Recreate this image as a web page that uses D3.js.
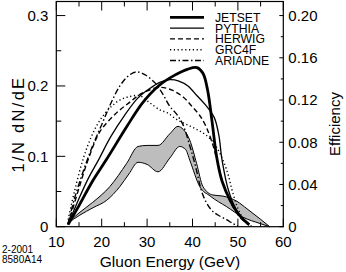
<!DOCTYPE html>
<html><head><meta charset="utf-8">
<script src="https://cdn.jsdelivr.net/npm/d3@7"></script>
<style>body{margin:0;background:#fff}svg{display:block}text{font-family:"Liberation Sans",Arial,Helvetica,sans-serif;fill:#000}</style>
</head><body>
<script>
// ---- data ----
const xTicks = [10,20,30,40,50,60];
const yTicksLeft = [0,0.1,0.2,0.3];
const yTicksRight = [0,0.04,0.08,0.12,0.16,0.20];
const seriesNames = ["JETSET","PYTHIA","HERWIG","GRC4F","ARIADNE"];
const jetset = [[12.6,0.003],[15,0.03],[18,0.065],[21,0.095],[25.5,0.142],[29,0.176],[32.5,0.2],[36,0.215],[39,0.224],[41,0.226],[42.3,0.218],[43.3,0.195],[44.3,0.15],[45.3,0.1],[46.5,0.065],[48.5,0.035],[50.5,0.015],[52.5,0.003]];
const pythia = [[12.6,0.003],[15,0.04],[17,0.068],[19.3,0.095],[22,0.128],[25,0.158],[28,0.183],[30.5,0.196],[32.8,0.205],[35,0.209],[37,0.207],[39,0.2],[41,0.186],[43,0.172],[44.8,0.155],[45.8,0.13],[46.5,0.095],[48,0.05],[50,0.02],[52,0.004]];
const herwig = [[12.6,0.003],[15,0.055],[17,0.095],[19.6,0.135],[23,0.16],[26,0.176],[29,0.19],[32.8,0.198],[35.5,0.194],[38,0.184],[40,0.17],[41.6,0.158],[43,0.142],[44.3,0.12],[45.4,0.095],[46.8,0.06],[48.5,0.033],[50.5,0.013],[52.5,0.002]];
const grc4f = [[12.6,0.01],[14,0.05],[16,0.098],[18,0.132],[20,0.155],[22,0.17],[24,0.18],[26.2,0.185],[28.4,0.186],[30.6,0.176],[32.8,0.166],[34.4,0.162],[36.6,0.152],[38.8,0.145],[41,0.138],[43,0.13],[44.8,0.118],[46.5,0.098],[47.8,0.075],[48.8,0.05],[50,0.026],[51.5,0.008],[53,0.001]];
const ariadne = [[12.6,0.005],[14,0.04],[16,0.08],[18,0.115],[20,0.145],[22,0.175],[24,0.2],[26,0.215],[27.7,0.22],[29.5,0.216],[31.8,0.204],[33.5,0.188],[35,0.171],[36.5,0.16],[37.9,0.145],[39.4,0.115],[40.5,0.09],[42.3,0.045],[44,0.025],[45.5,0.017],[47.5,0.01],[49,0.004],[50,0.001]];
// efficiency band (right axis)
const effUpper = [[12.4,0.003],[15,0.013],[18,0.023],[21.8,0.038],[25.5,0.06],[28,0.076],[30,0.077],[32.4,0.077],[35,0.088],[36.8,0.095],[38,0.092],[39.4,0.082],[40.9,0.06],[42.3,0.038],[44.5,0.03],[46.7,0.029],[49.8,0.024],[52,0.017],[55,0.007],[57,0.0]];
const effLower = [[12.4,0.003],[15.2,0.011],[18.1,0.018],[21.1,0.025],[24,0.038],[26,0.05],[28,0.061],[30,0.059],[32.4,0.052],[35,0.065],[37.2,0.076],[38.5,0.073],[39.4,0.063],[41.6,0.038],[43.9,0.029],[47.5,0.019],[51.1,0.009],[54.9,0.003],[57,0.0]];

// ---- layout ----
const W=346,H=272;
const L=56.3,R=283.3,T=1.5,B=226.7;
const svg=d3.select("body").append("svg").attr("width",W).attr("height",H);
const x=d3.scaleLinear().domain([10,60]).range([L,R]);
const y=d3.scaleLinear().domain([0,0.32]).range([B,T]);
const y2=d3.scaleLinear().domain([0,0.32*2/3]).range([B,T]);

// band
const lineU=d3.line().x(d=>x(d[0])).y(d=>y2(d[1])).curve(d3.curveMonotoneX);
const bandPath=lineU(effUpper)+"L"+lineU(effLower.slice().reverse()).slice(1)+"Z";
svg.append("path").attr("d",bandPath).attr("fill","#bdbdbd").attr("stroke","#000").attr("stroke-width",1);

// curves
const line=d3.line().x(d=>x(d[0])).y(d=>y(d[1])).curve(d3.curveCatmullRom.alpha(0.5));
const styles=[
 {w:2.8,dash:null},
 {w:1.3,dash:null},
 {w:1.4,dash:"5,3"},
 {w:1.4,dash:"1.2,2.6"},
 {w:1.4,dash:"6,2.5,1.5,2.5"}
];
const series=[jetset,pythia,herwig,grc4f,ariadne];
series.forEach((s,i)=>{
  const p=svg.append("path").attr("d",line(s)).attr("fill","none").attr("stroke","#000").attr("stroke-width",styles[i].w).attr("stroke-linejoin","round");
  if(styles[i].dash)p.attr("stroke-dasharray",styles[i].dash);
});

// frame
svg.append("rect").attr("x",L).attr("y",T).attr("width",R-L).attr("height",B-T).attr("fill","none").attr("stroke","#000").attr("stroke-width",1.2);

// ticks
const xMinor=d3.range(15,60,10);
const g=svg.append("g").attr("stroke","#000").attr("stroke-width",1);
xTicks.forEach(v=>{g.append("line").attr("x1",x(v)).attr("x2",x(v)).attr("y1",B).attr("y2",B-8);g.append("line").attr("x1",x(v)).attr("x2",x(v)).attr("y1",T).attr("y2",T+9);});
xMinor.forEach(v=>{g.append("line").attr("x1",x(v)).attr("x2",x(v)).attr("y1",B).attr("y2",B-4.5);g.append("line").attr("x1",x(v)).attr("x2",x(v)).attr("y1",T).attr("y2",T+5);});
yTicksLeft.forEach(v=>g.append("line").attr("x1",L).attr("x2",L+9).attr("y1",y(v)).attr("y2",y(v)));
[0.05,0.15,0.25].forEach(v=>g.append("line").attr("x1",L).attr("x2",L+5).attr("y1",y(v)).attr("y2",y(v)));
yTicksRight.forEach(v=>g.append("line").attr("x1",R).attr("x2",R-4).attr("y1",y2(v)).attr("y2",y2(v)));
[0.02,0.06,0.10,0.14,0.18].forEach(v=>g.append("line").attr("x1",R).attr("x2",R-2.5).attr("y1",y2(v)).attr("y2",y2(v)));

// tick labels
const fs=15;
xTicks.forEach(v=>svg.append("text").attr("x",x(v)).attr("y",246.5).attr("text-anchor","middle").attr("font-size",fs).text(v));
yTicksLeft.forEach(v=>svg.append("text").attr("x",L-8).attr("y",y(v)+5.3).attr("text-anchor","end").attr("font-size",fs).text(v===0?"0":v.toFixed(1)));
yTicksRight.forEach(v=>svg.append("text").attr("x",R+5).attr("y",y2(v)+5.3).attr("text-anchor","start").attr("font-size",fs).text(v===0?"0":v.toFixed(2)));

// axis titles
svg.append("text").attr("x",170).attr("y",267).attr("text-anchor","middle").attr("font-size",15.5).text("Gluon Energy  (GeV)");
svg.append("text").attr("transform","translate(24,124) rotate(-90)").attr("text-anchor","middle").attr("font-size",16.5).attr("letter-spacing",2.3).text("1/N dN/dE");
svg.append("text").attr("transform","translate(340,124) rotate(-90)").attr("text-anchor","middle").attr("font-size",15).text("Efficiency");

// stamp
svg.append("text").attr("x",2).attr("y",253).attr("font-size",10).text("2-2001");
svg.append("text").attr("x",2).attr("y",263).attr("font-size",10).text("8580A14");

// legend
const ly0=17.3, ldy=10.8;
const lt=svg.append("text").attr("font-size",12.2);
seriesNames.forEach((n,i)=>{
  const yy=ly0+i*ldy;
  const l=svg.append("line").attr("x1",170).attr("x2",204).attr("y1",yy).attr("y2",yy).attr("stroke","#000").attr("stroke-width",styles[i].w);
  if(styles[i].dash)l.attr("stroke-dasharray",styles[i].dash);
  lt.append("tspan").attr("x",215).attr("y",yy+4.4).text(n);
});
</script>
</body></html>
